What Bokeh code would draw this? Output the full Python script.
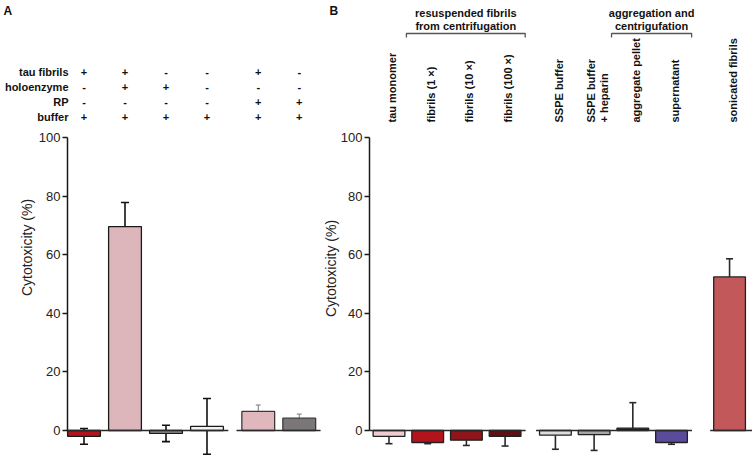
from math import pi
from bokeh.plotting import figure
from bokeh.models import (Range1d, FixedTicker, ColumnDataSource, Whisker,
                          TeeHead, LinearAxis)
from bokeh.embed import file_html
from bokeh.resources import INLINE
from bokeh.core.properties import value

# ---------------- data ----------------
# Panel A
a_values = [-2.0, 69.6, -1.0, 1.4, 6.5, 4.2]
a_errors = [2.7, 8.2, 2.8, 9.5, 2.2, 1.4]
a_groups = [0, 0, 0, 0, 1, 1]
a_colors = ["#b3141c", "#ddb6bc", "#9b9b9b", "#f3f3f3", "#dfb7bd", "#7b7779"]
row_names = ["tau fibrils", "holoenzyme", "RP", "buffer"]
tau_fibrils = ["+", "+", "-", "-", "+", "-"]
holoenzyme = ["-", "+", "+", "-", "-", "-"]
rp = ["-", "-", "-", "-", "+", "+"]
buffer = ["+", "+", "+", "+", "+", "+"]

# Panel B
b_labels = ["tau monomer", "fibrils (1 ×)", "fibrils (10 ×)", "fibrils (100 ×)",
            "SSPE buffer", "SSPE buffer\n+ heparin", "aggregate pellet",
            "supernatant", "sonicated fibrils"]
b_values = [-2.0, -4.1, -3.3, -2.0, -1.6, -1.4, 0.8, -4.1, 52.4]
b_errors = [2.5, 0.4, 1.8, 3.3, 4.8, 5.4, 8.7, 0.6, 6.2]
b_groups = [0, 0, 0, 0, 1, 1, 1, 1, 2]
b_colors = ["#f0ccd2", "#b3141c", "#8e1519", "#5f1015", "#dcdcdc",
            "#a6a6a6", "#231a1a", "#5a4b9b", "#c3585b"]
bracket_titles = [("resuspended fibrils", "from centrifugation"),
                  ("aggregation and", "centrigufation")]
bracket_members = [(1, 3), (6, 7)]
y_ticks = [0, 20, 40, 60, 80, 100]

# ---------------- layout helpers ----------------
FONT = "Liberation Sans"
W, H = 752, 455
PXU = 2.93                      # pixels per % unit
Y0_PX = 430                     # pixel row of the 0 % line
YTOP = Y0_PX / PXU
YBOT = -(H - Y0_PX) / PXU

A_C0, A_STEP = 83.5, 41.0        # first bar centre / slot pitch (px)
B_C0, B_STEP = 388.5, 38.7
A_AXIS, B_AXIS = 67, 369


def ay(py):
    return YTOP - py / PXU


def ax(px):
    return (px - A_C0) / A_STEP


def bx(px):
    return (px - B_C0) / B_STEP


p = figure(width=W, height=H, x_range=Range1d(0, W),
           y_range=Range1d(YBOT, YTOP), output_backend="svg",
           toolbar_location=None, x_axis_location=None, y_axis_location=None,
           min_border_left=0, min_border_right=0, min_border_top=0,
           min_border_bottom=0, outline_line_color=None)
p.xgrid.visible = False
p.ygrid.visible = False
p.extra_x_ranges = {"a": Range1d(ax(0), ax(W)), "b": Range1d(bx(0), bx(W))}


def add_axis(loc):
    axis = LinearAxis(fixed_location=loc, bounds=(0, 100),
                      ticker=FixedTicker(ticks=y_ticks))
    axis.major_label_text_font = FONT
    axis.major_label_text_font_size = "13px"
    axis.major_label_text_color = "#222222"
    axis.axis_line_width = 1.5
    axis.axis_line_color = "#1a1a1a"
    axis.major_tick_line_width = 1.5
    axis.major_tick_line_color = "#1a1a1a"
    axis.major_tick_out = 5
    axis.major_tick_in = 0
    axis.minor_tick_out = 0
    axis.minor_tick_in = 0
    axis.major_label_standoff = 2
    p.add_layout(axis, "left")


add_axis(A_AXIS)
add_axis(B_AXIS)

txt = dict(text_font=value(FONT), text_color="#111111")

# ---------------- panel A ----------------
xa = [i + 0.25 * g for i, g in enumerate(a_groups)]
src_a = ColumnDataSource(dict(x=xa, top=a_values, color=a_colors,
                              line=["#1a1a1a"] * 4 + ["#3a3a3a"] * 2))
p.vbar(x="x", top="top", bottom=0, width=0.8, source=src_a,
       fill_color="color", line_color="line", line_width=1.3,
       x_range_name="a")

for g in sorted(set(a_groups)):
    members = [x for x, gg in zip(xa, a_groups) if gg == g]
    x0 = ax(A_AXIS) if g == 0 else members[0] - 0.53
    x1 = members[-1] + 0.52
    p.segment(x0=[x0], y0=[0], x1=[x1], y1=[0], line_color="#2a2a2a",
              line_width=1.6, x_range_name="a")

for g, col, lw, hs in [(0, "#111111", 1.6, 8), (1, "#777777", 1.0, 5)]:
    idx = [i for i, gg in enumerate(a_groups) if gg == g]
    s = ColumnDataSource(dict(x=[xa[i] for i in idx],
                              up=[a_values[i] + a_errors[i] for i in idx],
                              lo=[a_values[i] - a_errors[i] for i in idx]))
    p.add_layout(Whisker(base="x", upper="up", lower="lo", source=s,
                         line_color=col, line_width=lw, x_range_name="a",
                         upper_head=TeeHead(size=hs, line_color=col, line_width=lw),
                         lower_head=TeeHead(size=hs, line_color=col, line_width=lw)))

row_y = [71, 86, 101, 116]
sx, sy, st = [], [], []
for symbols, ry in zip([tau_fibrils, holoenzyme, rp, buffer], row_y):
    for x, s in zip(xa, symbols):
        sx.append(x)
        sy.append(ay(ry))
        st.append(s)
p.text(x=sx, y=sy, text=st, text_align="center", text_baseline="middle",
       text_font_size="11px", text_font_style="bold", x_range_name="a", **txt)
p.text(x=[ax(A_AXIS + 1)] * len(row_names), y=[ay(r) for r in row_y],
       text=row_names, text_align="right", text_baseline="middle",
       text_font_size="11px", text_font_style="bold", x_range_name="a", **txt)
p.text(x=[ax(3)], y=[ay(3)], text=["A"], text_align="left",
       text_baseline="top", text_font_size="12px", text_font_style="bold",
       x_range_name="a", **txt)
p.text(x=[ax(26)], y=[ay(247)], text=["Cytotoxicity (%)"], angle=pi / 2,
       text_align="center", text_baseline="middle", text_font_size="14px",
       x_range_name="a", text_font=value(FONT), text_color="#222222")

# ---------------- panel B ----------------
offsets = [0.0, 0.3, 0.8]
xb = [i + offsets[g] for i, g in enumerate(b_groups)]
src_b = ColumnDataSource(dict(x=xb, top=b_values, color=b_colors))
p.vbar(x="x", top="top", bottom=0, width=0.82, source=src_b,
       fill_color="color", line_color="#222222", line_width=1.3,
       x_range_name="b")

last_group = max(b_groups)
for g in sorted(set(b_groups)):
    members = [x for x, gg in zip(xb, b_groups) if gg == g]
    x0 = bx(B_AXIS) if g == 0 else members[0] - 0.5
    x1 = bx(W) if g == last_group else members[-1] + 0.53
    p.segment(x0=[x0], y0=[0], x1=[x1], y1=[0], line_color="#2a2a2a",
              line_width=1.6, x_range_name="b")

pos = [i for i, v in enumerate(b_values) if v >= 0]
neg = [i for i, v in enumerate(b_values) if v < 0]
ecol = "#2a2a2a"
s_pos = ColumnDataSource(dict(x=[xb[i] for i in pos],
                              up=[b_values[i] + b_errors[i] for i in pos],
                              lo=[b_values[i] for i in pos]))
s_neg = ColumnDataSource(dict(x=[xb[i] for i in neg],
                              up=[b_values[i] for i in neg],
                              lo=[b_values[i] - b_errors[i] for i in neg]))
p.add_layout(Whisker(base="x", upper="up", lower="lo", source=s_pos,
                     line_color=ecol, line_width=1.6, x_range_name="b",
                     upper_head=TeeHead(size=7, line_color=ecol, line_width=1.6),
                     lower_head=None))
p.add_layout(Whisker(base="x", upper="up", lower="lo", source=s_neg,
                     line_color=ecol, line_width=1.6, x_range_name="b",
                     upper_head=None,
                     lower_head=TeeHead(size=7, line_color=ecol, line_width=1.6)))

p.text(x=[x + 0.08 for x in xb], y=[ay(122)] * len(xb), text=b_labels,
       angle=pi / 2, text_align="left", text_baseline="middle",
       text_font_size="11px", text_font_style="bold", text_line_height=1.1,
       x_range_name="b", **txt)

for (t1, t2), (i0, i1) in zip(bracket_titles, bracket_members):
    x0 = xb[i0] - 0.55
    x1 = xb[i1] + 0.52
    p.line(x=[x0, x0, x1, x1], y=[ay(37), ay(33), ay(33), ay(37)],
           line_color="#555555", line_width=1.3, x_range_name="b")
    xm = (x0 + x1) / 2
    p.text(x=[xm, xm], y=[ay(12.5), ay(25.5)], text=[t1, t2],
           text_align="center", text_baseline="middle",
           text_font_size="11px", text_font_style="bold",
           x_range_name="b", **txt)

p.text(x=[bx(329)], y=[ay(3)], text=["B"], text_align="left",
       text_baseline="top", text_font_size="12px", text_font_style="bold",
       x_range_name="b", **txt)
p.text(x=[bx(330)], y=[ay(268)], text=["Cytotoxicity (%)"], angle=pi / 2,
       text_align="center", text_baseline="middle", text_font_size="14px",
       x_range_name="b", text_font=value(FONT), text_color="#222222")

open("out.html", "w").write(file_html(p, INLINE))
